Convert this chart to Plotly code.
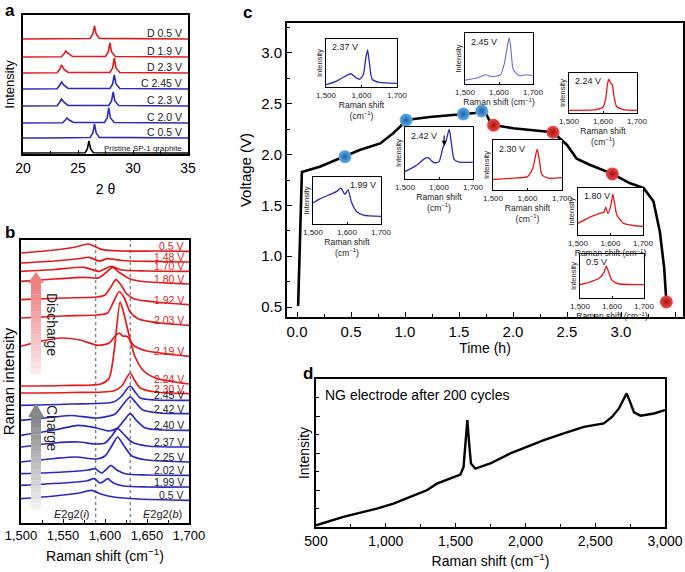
import plotly.graph_objects as go

W, H = 685, 572
FONT = "Liberation Sans, Arial, Helvetica, sans-serif"
RED = "#e31a1c"
BLUE = "#2a2ac0"
LBLUE = "#6b6bd6"

# ---------------- Panel a: XRD ----------------
xrd_names = ["Pristine SP-1 graphite", "C 0.5 V", "C 2.0 V", "C 2.3 V",
             "C 2.45 V", "D 2.3 V", "D 1.9 V", "D 0.5 V"]
xrd_offset = [1, 16, 31, 48, 65, 81, 97, 115]
xrd_pristine_2theta = [20, 25.65, 25.85, 26.0, 26.15, 26.4, 35]
xrd_pristine_int = [0, 0.3, 4, 12, 4, 0.3, 0]
xrd_c05_2theta = [20, 21.5, 22.0, 26.1, 26.35, 26.5, 26.65, 26.95, 35]
xrd_c05_int = [0, 0.4, 0, 0.5, 5, 14, 5, 0.6, 0]
xrd_c20_2theta = [20, 23.6, 23.85, 24.0, 24.2, 24.6, 27.4, 27.65, 27.8, 27.95, 28.3, 35]
xrd_c20_int = [0, 0.3, 3, 5, 3, 0.5, 0.5, 5, 15, 5, 0.5, 0]
xrd_c23_2theta = [20, 23.1, 23.35, 23.5, 23.7, 24.1, 27.8, 28.05, 28.2, 28.35, 28.7, 35]
xrd_c23_int = [0, 0.3, 4, 7, 4, 0.5, 0.5, 5, 14, 5, 0.5, 0]
xrd_c245_2theta = [20, 23.1, 23.35, 23.5, 23.7, 24.1, 27.9, 28.15, 28.3, 28.45, 28.8, 35]
xrd_c245_int = [0, 0.3, 4, 7, 4, 0.5, 0.5, 5, 14, 5, 0.5, 0]
xrd_d23_2theta = [20, 23.1, 23.35, 23.5, 23.7, 24.1, 27.9, 28.15, 28.3, 28.45, 28.8, 35]
xrd_d23_int = [0, 0.3, 4, 8, 4, 0.5, 0.5, 5, 15, 5, 0.5, 0]
xrd_d19_2theta = [20, 23.5, 23.75, 23.9, 24.1, 24.5, 27.5, 27.75, 27.9, 28.05, 28.4, 35]
xrd_d19_int = [0, 0.3, 3.5, 6, 3.5, 0.5, 0.5, 5, 14, 5, 0.5, 0]
xrd_d05_2theta = [20, 26.1, 26.35, 26.5, 26.65, 26.95, 35]
xrd_d05_int = [0, 0.5, 5, 13, 5, 0.6, 0]
xrd_colors = ["black", BLUE, BLUE, BLUE, BLUE, RED, RED, RED]
xrd_x = [xrd_pristine_2theta, xrd_c05_2theta, xrd_c20_2theta, xrd_c23_2theta,
         xrd_c245_2theta, xrd_d23_2theta, xrd_d19_2theta, xrd_d05_2theta]
xrd_y = [xrd_pristine_int, xrd_c05_int, xrd_c20_int, xrd_c23_int,
         xrd_c245_int, xrd_d23_int, xrd_d19_int, xrd_d05_int]

# ---------------- Panel b: in-situ Raman (stacked intensities) ----------------
rb_labels = ["0.5 V", "1.48 V", "1.70 V", "1.80 V", "1.92 V", "2.03 V", "2.19 V", "2.24 V", "2.30 V",
             "2.45 V", "2.42 V", "2.40 V", "2.37 V", "2.25 V", "2.02 V", "1.99 V", "0.5 V"]
rb_is_discharge = [1, 1, 1, 1, 1, 1, 1, 1, 1, 0, 0, 0, 0, 0, 0, 0, 0]
rb_d05_x = [1500, 1540, 1565, 1580, 1597, 1620, 1660, 1700]
rb_d05_y = [270, 273, 276, 279, 273.3, 272, 272, 271.7]
rb_d148_x = [1500, 1540, 1570, 1581, 1593, 1603, 1620, 1660, 1700]
rb_d148_y = [260, 262, 264.5, 265.7, 262, 264.3, 262.5, 261.5, 261]
rb_d170_x = [1500, 1540, 1575, 1593, 1607, 1620, 1650, 1700]
rb_d170_y = [251.7, 253.5, 255.7, 251.7, 256.7, 253, 252, 251.7]
rb_d180_x = [1500, 1540, 1575, 1592, 1602, 1609, 1618, 1630, 1645, 1700]
rb_d180_y = [241.7, 244, 245.7, 245, 251, 255.7, 250, 244, 241.5, 239]
rb_d192_x = [1500, 1550, 1590, 1600, 1607, 1613, 1619, 1626, 1635, 1660, 1700]
rb_d192_y = [223.3, 225, 226, 228, 236, 243.3, 238, 229, 224, 221, 218.3]
rb_d203_x = [1500, 1550, 1590, 1603, 1610, 1617, 1623, 1630, 1640, 1665, 1700]
rb_d203_y = [205, 207, 208, 210, 221, 231.5, 225, 211, 204, 200, 197.7]
rb_d219_x = [1500, 1525, 1548, 1570, 1592, 1605, 1612, 1617, 1621, 1626, 1635, 1650, 1675, 1700]
rb_d219_y = [176.7, 182, 185, 183, 177.7, 180, 187, 190, 187, 186.7, 177, 172, 169, 166.7]
rb_d224_x = [1500, 1550, 1595, 1605, 1611, 1618, 1622, 1628, 1635, 1645, 1660, 1700]
rb_d224_y = [137, 137.5, 139, 145, 173, 221, 211, 190, 168, 153, 145, 139]
rb_d230_x = [1500, 1560, 1610, 1620, 1625, 1630, 1635, 1642, 1660, 1700]
rb_d230_y = [130, 130.5, 132, 137, 144, 150, 143, 135, 131, 129.3]
rb_c245_x = [1500, 1560, 1610, 1620, 1626, 1630, 1635, 1642, 1660, 1700]
rb_c245_y = [117.7, 119, 121, 127, 134, 137, 132, 125, 123, 122.7]
rb_c242_x = [1500, 1540, 1560, 1590, 1612, 1622, 1630, 1637, 1645, 1665, 1700]
rb_c242_y = [102.7, 106, 107.5, 105, 109, 119, 126, 120, 113, 110, 109.3]
rb_c240_x = [1500, 1540, 1568, 1590, 1605, 1615, 1623, 1630, 1637, 1648, 1670, 1700]
rb_c240_y = [87.7, 93, 97.7, 95, 92, 95, 103, 109.3, 103, 95, 93, 92.7]
rb_c237_x = [1500, 1540, 1568, 1590, 1600, 1608, 1615, 1622, 1632, 1650, 1700]
rb_c237_y = [76, 80, 81, 79, 80, 87, 94.3, 89, 81, 77, 76]
rb_c225_x = [1500, 1540, 1565, 1590, 1600, 1608, 1615, 1622, 1632, 1650, 1700]
rb_c225_y = [61, 64.5, 66, 64, 67, 77, 86, 78, 67, 63, 61]
rb_c202_x = [1500, 1550, 1580, 1588, 1596, 1602, 1607, 1614, 1625, 1650, 1700]
rb_c202_y = [49.3, 51, 53, 54.3, 50, 54, 57.7, 53, 49, 48, 47.7]
rb_c199_x = [1500, 1550, 1578, 1587, 1594, 1599, 1603, 1610, 1622, 1650, 1700]
rb_c199_y = [37.7, 40, 42, 44.3, 40, 42, 44.3, 40, 37, 36, 36]
rb_c05_x = [1500, 1540, 1570, 1584, 1595, 1610, 1640, 1700]
rb_c05_y = [24.3, 27, 30, 32.7, 29, 26, 24, 22.7]
rb_x = [rb_d05_x, rb_d148_x, rb_d170_x, rb_d180_x, rb_d192_x, rb_d203_x, rb_d219_x, rb_d224_x, rb_d230_x,
        rb_c245_x, rb_c242_x, rb_c240_x, rb_c237_x, rb_c225_x, rb_c202_x, rb_c199_x, rb_c05_x]
rb_y = [rb_d05_y, rb_d148_y, rb_d170_y, rb_d180_y, rb_d192_y, rb_d203_y, rb_d219_y, rb_d224_y, rb_d230_y,
        rb_c245_y, rb_c242_y, rb_c240_y, rb_c237_y, rb_c225_y, rb_c202_y, rb_c199_y, rb_c05_y]
e2g2_positions = [1589, 1630]

# ---------------- Panel c: voltage profile ----------------
time_h = [0.01, 0.03, 0.045, 0.21, 0.444, 0.58, 0.77, 0.89, 0.96, 1.01, 1.23, 1.54, 1.65, 1.71, 1.75,
          1.79, 1.82, 2.00, 2.20, 2.37, 2.50, 2.59, 2.71, 2.92, 3.08, 3.21, 3.30, 3.36, 3.40, 3.42]
voltage = [0.51, 1.30, 1.83, 1.88, 1.98, 2.045, 2.11, 2.21, 2.28, 2.34, 2.37, 2.40, 2.41, 2.43, 2.40,
           2.32, 2.29, 2.26, 2.24, 2.22, 2.095, 1.96, 1.90, 1.81, 1.72, 1.67, 1.54, 1.24, 0.88, 0.55]
charge_t = [0.444, 1.01, 1.54, 1.71]
charge_v = [1.98, 2.34, 2.40, 2.43]
discharge_t = [1.82, 2.37, 2.92, 3.42]
discharge_v = [2.29, 2.22, 1.81, 0.55]

# inset spectra (normalized intensity)
ins237_x = [1500, 1530, 1560, 1570, 1585, 1595, 1605, 1612, 1617, 1622, 1630, 1650, 1700]
ins237_y = [0.0, 0.08, 0.21, 0.24, 0.15, 0.12, 0.22, 0.57, 0.76, 0.5, 0.12, 0.05, 0.03]
ins199_x = [1500, 1520, 1550, 1570, 1582, 1594, 1603, 1613, 1628, 1648, 1700]
ins199_y = [0.42, 0.51, 0.61, 0.68, 0.75, 0.61, 0.72, 0.44, 0.23, 0.15, 0.12]
ins242_x = [1500, 1530, 1560, 1568, 1585, 1600, 1612, 1620, 1630, 1636, 1645, 1660, 1700]
ins242_y = [0.10, 0.21, 0.37, 0.38, 0.28, 0.30, 0.59, 0.70, 0.95, 0.69, 0.34, 0.29, 0.29]
ins245_x = [1500, 1540, 1560, 1580, 1605, 1615, 1625, 1630, 1635, 1642, 1660, 1680, 1700]
ins245_y = [0.03, 0.085, 0.14, 0.10, 0.15, 0.35, 0.74, 0.90, 0.67, 0.25, 0.12, 0.14, 0.12]
ins230_x = [1500, 1560, 1600, 1615, 1625, 1628, 1634, 1642, 1660, 1700]
ins230_y = [0.17, 0.20, 0.23, 0.40, 0.73, 0.80, 0.60, 0.27, 0.20, 0.21]
ins224_x = [1500, 1580, 1600, 1608, 1613, 1617, 1622, 1627, 1632, 1640, 1660, 1700]
ins224_y = [0.02, 0.04, 0.10, 0.33, 0.70, 0.84, 0.74, 0.70, 0.41, 0.12, 0.04, 0.02]
ins180_x = [1500, 1540, 1565, 1580, 1585, 1592, 1602, 1607, 1612, 1620, 1640, 1700]
ins180_y = [0.21, 0.36, 0.43, 0.46, 0.57, 0.43, 0.64, 0.86, 0.68, 0.39, 0.21, 0.14]
ins05_x = [1500, 1530, 1560, 1575, 1582, 1590, 1600, 1620, 1700]
ins05_y = [0.27, 0.33, 0.42, 0.56, 0.71, 0.56, 0.37, 0.29, 0.27]
inset_labels = ["2.37 V", "1.99 V", "2.42 V", "2.45 V", "2.30 V", "2.24 V", "1.80 V", "0.5 V"]

# ---------------- Panel d ----------------
d_shift = [500, 696, 935, 1055, 1175, 1294, 1366, 1462, 1534, 1557, 1572, 1584, 1596, 1610, 1641, 1749,
           1892, 2012, 2132, 2275, 2419, 2562, 2622, 2670, 2706, 2725, 2749, 2778, 2825, 2921, 3000]
d_int = [0.011, 0.068, 0.124, 0.158, 0.203, 0.248, 0.293, 0.327, 0.354, 0.406, 0.576, 0.722, 0.576, 0.429,
         0.395, 0.429, 0.497, 0.542, 0.587, 0.632, 0.677, 0.700, 0.745, 0.801, 0.869, 0.903, 0.847, 0.774,
         0.752, 0.767, 0.79]


# ---------------- helpers ----------------
def px(x):
    return x / W


def py(y):
    return 1 - y / H


def xdom(a, b):
    return [px(a), px(b)]


def ydom(top, bottom):
    return [py(bottom), py(top)]


def axstyle(lw=1.5, **kw):
    d = dict(showline=True, linecolor="black", linewidth=lw, mirror=True, ticks="inside", automargin=False,
             tickcolor="black", showgrid=False, zeroline=False, tickfont=dict(size=14, color="black"))
    d.update(kw)
    return d


fig = go.Figure()
layout = {}
annotations = []
shapes = []

# Panel a traces
for xs, ys, off, col in zip(xrd_x, xrd_y, xrd_offset, xrd_colors):
    fig.add_trace(go.Scatter(x=xs, y=[v + off for v in ys], mode="lines",
                             line=dict(color=col, width=1.6), xaxis="x", yaxis="y", hoverinfo="skip"))
for name, off, col in zip(xrd_names, xrd_offset, xrd_colors):
    small = name.startswith("Pristine")
    annotations.append(dict(x=34.6, y=off, xref="x", yref="y", text=name, showarrow=False,
                            xanchor="right", yanchor="middle", yshift=6 if not small else 5,
                            font=dict(size=8 if small else 10.5, color="#222")))
layout["xaxis"] = axstyle(domain=xdom(23, 188), range=[20, 35], dtick=5, ticklen=4,
                          minor=dict(dtick=2.5, ticklen=3, ticks="inside", tickcolor="black"),
                          title=dict(text="2 θ", font=dict(size=14), standoff=10), anchor="y")
layout["yaxis"] = axstyle(domain=ydom(15, 154), range=[0, 139], ticks="", showticklabels=False,
                          title=dict(text="Intensity", font=dict(size=13), standoff=4), anchor="x")

# Panel b traces
for xs, ys, dis, lab in zip(rb_x, rb_y, rb_is_discharge, rb_labels):
    col = RED if dis else BLUE
    fig.add_trace(go.Scatter(x=xs, y=ys, mode="lines", line=dict(color=col, width=1.7, shape="spline",
                                                                  smoothing=0.7),
                             xaxis="x2", yaxis="y2", hoverinfo="skip"))
    annotations.append(dict(x=1697, y=ys[-1], xref="x2", yref="y2", text=lab, showarrow=False,
                            xanchor="right", yanchor="middle", yshift=5,
                            font=dict(size=10.5, color=RED if dis else "#222")))
for pos in e2g2_positions:
    shapes.append(dict(type="line", xref="x2", yref="y2 domain", x0=pos, x1=pos, y0=0, y1=1,
                       line=dict(color="#555", width=1, dash="dot"), layer="below"))
annotations.append(dict(x=1561, y=9, xref="x2", yref="y2", text="<i>E</i>2g2(<i>i</i>)", showarrow=False,
                        font=dict(size=11, color="#222")))
annotations.append(dict(x=1669, y=9, xref="x2", yref="y2", text="<i>E</i>2g2(<i>b</i>)", showarrow=False,
                        font=dict(size=11, color="#222")))
layout["xaxis2"] = axstyle(domain=xdom(21, 189), range=[1500, 1700], dtick=50, tickformat=",", ticklen=4,
                           tickfont=dict(size=13, color="black"),
                           minor=dict(dtick=25, ticklen=3, ticks="inside", tickcolor="black"),
                           title=dict(text="Raman shift (cm<sup>−1</sup>)", font=dict(size=14), standoff=9),
                           anchor="y2")
layout["yaxis2"] = axstyle(domain=ydom(240, 523), range=[0, 283], ticks="", showticklabels=False,
                           title=dict(text="Raman intensity", font=dict(size=15), standoff=4), anchor="x2")


def add_arrow(cx, tip, head_base, bottom, head_hw, shaft_hw, c_top, c_bot, n=16):
    shapes.append(dict(type="path", xref="paper", yref="paper",
                       path=f"M {px(cx - head_hw)} {py(head_base)} L {px(cx)} {py(tip)} "
                            f"L {px(cx + head_hw)} {py(head_base)} Z",
                       fillcolor=f"rgb{c_top}", line=dict(width=0)))
    step = (bottom - head_base) / n
    for i in range(n):
        f = i / (n - 1)
        c = tuple(int(round(c_top[k] + (c_bot[k] - c_top[k]) * f)) for k in range(3))
        shapes.append(dict(type="rect", xref="paper", yref="paper",
                           x0=px(cx - shaft_hw), x1=px(cx + shaft_hw),
                           y0=py(head_base + step * (i + 1) + 0.3), y1=py(head_base + step * i),
                           fillcolor=f"rgb{c}", line=dict(width=0)))


add_arrow(36, 272, 283, 374, 8, 5, (238, 128, 128), (252, 232, 232))
add_arrow(36, 403, 417, 509, 8, 5, (135, 135, 135), (240, 240, 240))
annotations.append(dict(x=px(42), y=py(324), xref="paper", yref="paper", text="Discharge", showarrow=False,
                        textangle=90, font=dict(size=14, color="#222")))
annotations.append(dict(x=px(42), y=py(453), xref="paper", yref="paper", text="Charge", showarrow=False,
                        textangle=90, font=dict(size=14, color="#222")))

# Panel c traces
fig.add_trace(go.Scatter(x=time_h, y=voltage, mode="lines", line=dict(color="black", width=2.6),
                         xaxis="x3", yaxis="y3", hoverinfo="skip"))
fig.add_trace(go.Scatter(x=charge_t, y=charge_v, mode="markers", xaxis="x3", yaxis="y3", hoverinfo="skip",
                         marker=dict(size=13, color="#62aee8", line=dict(width=0),
                                     gradient=dict(type="radial", color="#1c62a8"))))
fig.add_trace(go.Scatter(x=discharge_t, y=discharge_v, mode="markers", xaxis="x3", yaxis="y3",
                         hoverinfo="skip",
                         marker=dict(size=13, color="#ec4a4a", line=dict(width=0),
                                     gradient=dict(type="radial", color="#a8140f"))))
layout["xaxis3"] = axstyle(lw=2, domain=xdom(287, 683), range=[-0.093, 3.574], dtick=0.5, tickformat=".1f",
                           ticklen=5, tickfont=dict(size=15, color="black"),
                           minor=dict(dtick=0.25, ticklen=3, ticks="inside", tickcolor="black"),
                           title=dict(text="Time (h)", font=dict(size=14), standoff=3), anchor="y3")
layout["yaxis3"] = axstyle(lw=2, domain=ydom(23, 317), range=[0.402, 3.295], dtick=0.5, tickformat=".1f",
                           ticklen=5, tickfont=dict(size=15, color="black"),
                           minor=dict(dtick=0.25, ticklen=3, ticks="inside", tickcolor="black"),
                           title=dict(text="Voltage (V)", font=dict(size=15), standoff=6), anchor="x3")

# insets
inset_boxes = [(326, 397, 39, 87), (313, 381, 177, 224), (405, 473, 127, 179), (465, 533, 33, 84),
               (493, 562, 140, 190), (569, 637, 73, 113), (578, 643, 188, 235), (580, 644, 254, 298)]
inset_x = [ins237_x, ins199_x, ins242_x, ins245_x, ins230_x, ins224_x, ins180_x, ins05_x]
inset_y = [ins237_y, ins199_y, ins242_y, ins245_y, ins230_y, ins224_y, ins180_y, ins05_y]
inset_col = [BLUE, BLUE, BLUE, LBLUE, RED, RED, RED, RED]
inset_two_line = [True, True, True, False, True, True, False, False]
inset_label_right = [False, True, False, False, False, False, False, False]
for i, (box, xs, ys, col, two, right, lab) in enumerate(zip(inset_boxes, inset_x, inset_y, inset_col,
                                                            inset_two_line, inset_label_right, inset_labels)):
    n = i + 5
    xa, ya = f"x{n}", f"y{n}"
    fig.add_trace(go.Scatter(x=xs, y=ys, mode="lines",
                             line=dict(color=col, width=1.1 if col == LBLUE else 1.3, shape="spline",
                                       smoothing=0.6),
                             xaxis=xa, yaxis=ya, hoverinfo="skip"))
    ttl = "Raman shift<br>(cm<sup>−1</sup>)" if two else "Raman shift (cm<sup>−1</sup>)"
    layout[f"xaxis{n}"] = axstyle(lw=1.2, domain=xdom(box[0], box[1]), range=[1500, 1700],
                                  tickvals=[1500, 1600, 1700], tickformat=",", ticklen=2,
                                  tickfont=dict(size=8, color="#222"),
                                  title=dict(text=ttl, font=dict(size=8.5, color="#222"), standoff=1),
                                  anchor=ya)
    layout[f"yaxis{n}"] = axstyle(lw=1.2, domain=ydom(box[2], box[3]), range=[-0.05, 1.0], ticks="",
                                  showticklabels=False,
                                  title=dict(text="Intensity", font=dict(size=7.5, color="#222"), standoff=1),
                                  anchor=xa)
    annotations.append(dict(x=0.95 if right else 0.06, y=0.97, xref=f"{xa} domain", yref=f"{ya} domain",
                            text=lab, showarrow=False, xanchor="right" if right else "left", yanchor="top",
                            font=dict(size=9, color="#222")))

# arrow in 2.42 V inset
annotations.append(dict(x=1615, y=0.62, xref="x7", yref="y7", ax=1615, ay=0.86, axref="x7", ayref="y7",
                        text="", showarrow=True, arrowhead=2, arrowsize=0.9, arrowwidth=1.1,
                        arrowcolor="black"))

# Panel d
fig.add_trace(go.Scatter(x=d_shift, y=d_int, mode="lines", line=dict(color="black", width=2.4),
                         xaxis="x4", yaxis="y4", hoverinfo="skip"))
layout["xaxis4"] = axstyle(domain=xdom(316, 665), range=[500, 3000], dtick=500, tickformat=",", ticklen=4,
                           tickfont=dict(size=14, color="black"),
                           minor=dict(dtick=250, ticklen=3, ticks="inside", tickcolor="black"),
                           title=dict(text="Raman shift (cm<sup>−1</sup>)", font=dict(size=14), standoff=9),
                           anchor="y4")
layout["yaxis4"] = axstyle(domain=ydom(379, 527), range=[0, 1], dtick=0.25, ticklen=4, showticklabels=False,
                           minor=dict(dtick=0.125, ticklen=3, ticks="inside", tickcolor="black"),
                           title=dict(text="Intensity", font=dict(size=14), standoff=1), anchor="x4")
annotations.append(dict(x=0.02, y=0.96, xref="x4 domain", yref="y4 domain", text="NG electrode after 200 cycles",
                        showarrow=False, xanchor="left", yanchor="top", font=dict(size=14, color="black")))

# panel letters
for letter, x, y in [("a", 3, 10), ("b", 3, 232), ("c", 241, 13), ("d", 301, 373)]:
    annotations.append(dict(x=px(x), y=py(y), xref="paper", yref="paper", text=f"<b>{letter}</b>",
                            showarrow=False, xanchor="left", yanchor="middle",
                            font=dict(size=17, color="black")))

fig.update_layout(width=W, height=H, margin=dict(l=0, r=0, t=0, b=0, autoexpand=False), paper_bgcolor="white",
                  plot_bgcolor="white", showlegend=False, font=dict(family=FONT, color="black"),
                  annotations=annotations, shapes=shapes, **layout)
fig.write_html("out.html", config={"displayModeBar": False},
               post_script="document.body.style.margin='0px';document.body.style.overflow='hidden';")
